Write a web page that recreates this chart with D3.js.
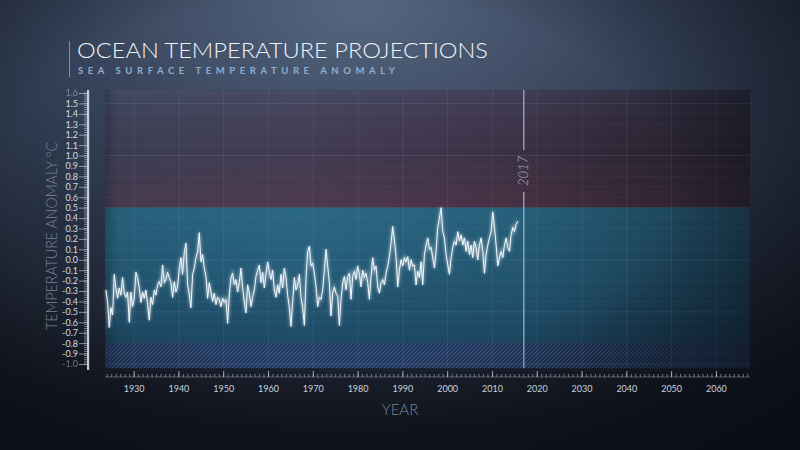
<!DOCTYPE html>
<html>
<head>
<meta charset="utf-8">
<script src="https://cdnjs.cloudflare.com/ajax/libs/d3/7.8.5/d3.min.js"></script>
<style>
  body { margin: 0; background: #1b2130; }
  svg { display: block; font-family: 'Lato', 'Open Sans', sans-serif; }
</style>
</head>
<body>
<div id="chart"></div>
<script>
// sea surface temperature anomaly (roughly 3 samples a year)
var sampleStart = 1923.7
var sampleStep = 0.3723
var anomaly = [
  -0.29, -0.40, -0.65, -0.46, -0.53, -0.14, -0.27, -0.37, -0.27, -0.34,
  -0.17, -0.32, -0.36, -0.31, -0.60, -0.31, -0.45, -0.37, -0.12, -0.17,
  -0.27, -0.41, -0.31, -0.37, -0.29, -0.43, -0.58, -0.36, -0.43, -0.29,
  -0.34, -0.24, -0.21, -0.26, -0.05, -0.22, -0.19, -0.12, -0.17, -0.22,
  -0.36, -0.21, -0.31, -0.26, -0.08, 0.02, -0.14, 0.07, 0.16, -0.24,
  -0.34, -0.46, -0.14, -0.08, 0.02, 0.08, 0.26, -0.02, 0.05,
  -0.08, -0.16, -0.37, -0.22, -0.31, -0.40, -0.32, -0.43, -0.36, -0.38,
  -0.45, -0.37, -0.41, -0.38, -0.61, -0.34, -0.17, -0.13, -0.24, -0.19,
  -0.31, -0.22, -0.08, -0.27, -0.41, -0.51, -0.24, -0.32, -0.45, -0.36,
  -0.29, -0.16, -0.10, -0.05, -0.22, -0.12, -0.27, -0.14, -0.02, -0.12,
  -0.19, -0.10, -0.29, -0.36, -0.24, -0.32, -0.14, -0.27, -0.08, -0.17,
  -0.34, -0.46, -0.64, -0.40, -0.17, -0.29, -0.24, -0.14, -0.36, -0.46,
  -0.63, -0.17, 0.08,
  0.13, -0.06, -0.03, -0.13, -0.26, -0.45, -0.36, -0.38, -0.29, -0.10,
  0.10, -0.06, -0.22, -0.54, -0.32, -0.26, -0.32, -0.35, -0.63, -0.38,
  -0.22, -0.16, -0.29, -0.16, -0.13, -0.38, -0.16, -0.11, -0.19, -0.06,
  -0.14, -0.26, -0.10, -0.17, -0.13, -0.22, -0.38, -0.16, 0.02, -0.10,
  -0.06, -0.26, -0.32, -0.22, -0.19, -0.24, -0.13, -0.06, 0.03, 0.16,
  0.32, 0.19, 0.03, -0.26, -0.10, 0.00, -0.06, 0.02, -0.02, 0.03,
  -0.10, 0.00, -0.06,
  -0.05, -0.24, -0.11, -0.17, -0.02, -0.24, 0.05, 0.14, 0.21, 0.10,
  0.12, 0.02, -0.08, 0.08, 0.31, 0.40, 0.50, 0.27, 0.21, 0.05,
  -0.05, -0.14, 0.02, 0.12, 0.18, 0.14, 0.27, 0.18, 0.24, 0.14,
  0.21, 0.08, 0.18, 0.05, 0.14, 0.02, 0.18, 0.12, 0.00, 0.14,
  0.21, 0.08, -0.13, 0.05, 0.14, 0.21, 0.27, 0.46, 0.31, 0.14,
  -0.06, 0.02, 0.08, 0.02, 0.14, 0.21, 0.12, 0.08, 0.24, 0.31,
  0.27, 0.34, 0.37
]

var xTicks = [1930, 1940, 1950, 1960, 1970, 1980, 1990, 2000, 2010, 2020, 2030, 2040, 2050, 2060]
var yTicks = [-1.0, -0.9, -0.8, -0.7, -0.6, -0.5, -0.4, -0.3, -0.2, -0.1, 0.0,
  0.1, 0.2, 0.3, 0.4, 0.5, 0.6, 0.7, 0.8, 0.9, 1.0, 1.1, 1.2, 1.3, 1.4, 1.5, 1.6]

// bands behind the line
var warmBand = [0.5, 1.63]
var coolBand = [-0.8, 0.5]
var lowBand = [-1.04, -0.8]
var markerYear = 2017

var w = 800
var h = 450

var svg = d3.select("#chart")
  .append("svg")
  .attr("width", w)
  .attr("height", h)

var defs = svg.append("defs")

var bg = defs.append("radialGradient")
  .attr("id", "bg")
  .attr("cx", "45%").attr("cy", "2%").attr("r", "95%")
bg.append("stop").attr("offset", "0%").attr("stop-color", "#55667f")
bg.append("stop").attr("offset", "35%").attr("stop-color", "#39465e")
bg.append("stop").attr("offset", "70%").attr("stop-color", "#222a3a")
bg.append("stop").attr("offset", "100%").attr("stop-color", "#12161f")

var warm = defs.append("linearGradient")
  .attr("id", "warm").attr("x1", 0).attr("x2", 1).attr("y1", 0).attr("y2", 0)
warm.append("stop").attr("offset", "0%").attr("stop-color", "#3c4258")
warm.append("stop").attr("offset", "55%").attr("stop-color", "#3c3248")
warm.append("stop").attr("offset", "100%").attr("stop-color", "#35232e")

var warmV = defs.append("linearGradient")
  .attr("id", "warmV").attr("x1", 0).attr("x2", 0).attr("y1", 0).attr("y2", 1)
warmV.append("stop").attr("offset", "0%").attr("stop-color", "#5a6a90").attr("stop-opacity", 0.25)
warmV.append("stop").attr("offset", "50%").attr("stop-color", "#5a3048").attr("stop-opacity", 0.1)
warmV.append("stop").attr("offset", "100%").attr("stop-color", "#6a3040").attr("stop-opacity", 0.35)

var cool = defs.append("linearGradient")
  .attr("id", "cool").attr("x1", 0).attr("x2", 0).attr("y1", 0).attr("y2", 1)
cool.append("stop").attr("offset", "0%").attr("stop-color", "#2a6884")
cool.append("stop").attr("offset", "45%").attr("stop-color", "#265e7a")
cool.append("stop").attr("offset", "100%").attr("stop-color", "#1e4a66")

var shade = defs.append("linearGradient")
  .attr("id", "shade").attr("x1", 0).attr("x2", 1).attr("y1", 0).attr("y2", 0)
shade.append("stop").attr("offset", "0%").attr("stop-color", "#0c1420").attr("stop-opacity", 0.35)
shade.append("stop").attr("offset", "2%").attr("stop-color", "#0c1420").attr("stop-opacity", 0.1)
shade.append("stop").attr("offset", "30%").attr("stop-color", "#0c1420").attr("stop-opacity", 0)
shade.append("stop").attr("offset", "65%").attr("stop-color", "#0c1420").attr("stop-opacity", 0.1)
shade.append("stop").attr("offset", "100%").attr("stop-color", "#0c1420").attr("stop-opacity", 0.55)

var hatch = defs.append("pattern")
  .attr("id", "hatch")
  .attr("patternUnits", "userSpaceOnUse")
  .attr("width", 4).attr("height", 4)
hatch.append("path")
  .attr("d", "M0,4 L4,0 M-1,1 L1,-1 M3,5 L5,3")
  .attr("stroke", "#ffffff")
  .attr("stroke-opacity", 0.06)
  .attr("stroke-width", 1)

var hatch2 = defs.append("pattern")
  .attr("id", "hatch2")
  .attr("patternUnits", "userSpaceOnUse")
  .attr("width", 4).attr("height", 4)
hatch2.append("path")
  .attr("d", "M0,4 L4,0 M-1,1 L1,-1 M3,5 L5,3")
  .attr("stroke", "#8fb0e0")
  .attr("stroke-opacity", 0.3)
  .attr("stroke-width", 1)

var glow = defs.append("filter").attr("id", "glow")
  .attr("x", "-10%").attr("y", "-10%").attr("width", "120%").attr("height", "120%")
glow.append("feGaussianBlur").attr("stdDeviation", 1.5)

var vig = defs.append("radialGradient")
  .attr("id", "vig")
  .attr("cx", "42%").attr("cy", "40%").attr("r", "75%")
vig.append("stop").attr("offset", "55%").attr("stop-color", "#05080e").attr("stop-opacity", 0)
vig.append("stop").attr("offset", "100%").attr("stop-color", "#05080e").attr("stop-opacity", 0.55)

svg.append("rect")
  .attr("width", w)
  .attr("height", h)
  .attr("fill", "url(#bg)")

// Scales
var xScale = d3.scaleLinear()
  .domain([1923.5, 2067.5])
  .range([105, 750])

var yScale = d3.scaleLinear()
  .domain([-1.0, 1.6])
  .range([364, 93])

var x0 = xScale.range()[0]
var x1 = xScale.range()[1]

// Bands
svg.append("rect")
  .attr("x", x0).attr("width", x1 - x0)
  .attr("y", yScale(warmBand[1]))
  .attr("height", yScale(warmBand[0]) - yScale(warmBand[1]))
  .attr("fill", "url(#warm)")
  .attr("opacity", 0.9)
svg.append("rect")
  .attr("x", x0).attr("width", x1 - x0)
  .attr("y", yScale(warmBand[1]))
  .attr("height", yScale(warmBand[0]) - yScale(warmBand[1]))
  .attr("fill", "url(#warmV)")
svg.append("rect")
  .attr("x", x0).attr("width", x1 - x0)
  .attr("y", yScale(warmBand[1]))
  .attr("height", yScale(warmBand[0]) - yScale(warmBand[1]))
  .attr("fill", "url(#hatch)")

svg.append("rect")
  .attr("x", x0).attr("width", x1 - x0)
  .attr("y", yScale(coolBand[1]))
  .attr("height", yScale(coolBand[0]) - yScale(coolBand[1]))
  .attr("fill", "url(#cool)")

svg.append("rect")
  .attr("x", x0).attr("width", x1 - x0)
  .attr("y", yScale(lowBand[1]))
  .attr("height", yScale(lowBand[0]) - yScale(lowBand[1]))
  .attr("fill", "#233a60")
svg.append("rect")
  .attr("x", x0).attr("width", x1 - x0)
  .attr("y", yScale(lowBand[1]))
  .attr("height", yScale(lowBand[0]) - yScale(lowBand[1]))
  .attr("fill", "url(#hatch2)")

// darken towards the right like the photo
svg.append("rect")
  .attr("x", x0).attr("width", x1 - x0)
  .attr("y", yScale(warmBand[1]))
  .attr("height", yScale(lowBand[0]) - yScale(warmBand[1]))
  .attr("fill", "url(#shade)")

// Grid
svg.append("g")
  .attr("class", "grid")
  .selectAll("line")
  .data(yTicks)
  .enter()
  .append("line")
  .attr("x1", x0).attr("x2", x1)
  .attr("y1", d => yScale(d)).attr("y2", d => yScale(d))
  .attr("stroke", "#c8dcff")
  .attr("stroke-opacity", d => Math.abs(Math.round(d * 10) % 5) === 0 ? 0.1 : 0.05)

svg.append("g")
  .attr("class", "grid")
  .selectAll("line")
  .data(xTicks)
  .enter()
  .append("line")
  .attr("x1", d => xScale(d)).attr("x2", d => xScale(d))
  .attr("y1", yScale(warmBand[1])).attr("y2", yScale(lowBand[0]))
  .attr("stroke", "#c8dcff")
  .attr("stroke-opacity", 0.08)

// 2017 marker
var mx = xScale(markerYear)
svg.append("line")
  .attr("x1", mx).attr("x2", mx)
  .attr("y1", 90).attr("y2", 150)
  .attr("stroke", "#a9c2d6")
  .attr("stroke-opacity", 0.75)
  .attr("stroke-width", 1.5)
svg.append("line")
  .attr("x1", mx).attr("x2", mx)
  .attr("y1", 192).attr("y2", yScale(lowBand[0]))
  .attr("stroke", "#a9c2d6")
  .attr("stroke-opacity", 0.75)
  .attr("stroke-width", 1.5)
svg.append("text")
  .attr("transform", `translate(${mx + 4},171) rotate(-90)`)
  .attr("text-anchor", "middle")
  .style("font-size", "13px")
  .style("font-style", "italic")
  .style("font-weight", 300)
  .attr("fill", "#a3b2c4")
  .text(markerYear)

// Line
var line = d3.line()
  .x((d, i) => xScale(sampleStart + i * sampleStep))
  .y(d => yScale(d))

svg.append("path")
  .datum(anomaly)
  .attr("d", line)
  .attr("fill", "none")
  .attr("stroke", "#ffffff")
  .attr("stroke-opacity", 0.45)
  .attr("stroke-width", 2.5)
  .attr("filter", "url(#glow)")

svg.append("path")
  .datum(anomaly)
  .attr("d", line)
  .attr("fill", "none")
  .attr("stroke", "#f2f8ff")
  .attr("stroke-width", 1)
  .attr("stroke-linejoin", "round")

// vignette
svg.append("rect")
  .attr("width", w)
  .attr("height", h)
  .attr("fill", "url(#vig)")

// Y axis
var yMinor = d3.range(-50, 81).map(i => i / 50)
var yAxisG = svg.append("g")
  .attr("class", "y-axis")
  .attr("transform", "translate(87,0)")

yAxisG.selectAll(".minor")
  .data(yMinor)
  .enter()
  .append("line")
  .attr("class", "minor")
  .attr("x1", -3).attr("x2", 0)
  .attr("y1", d => yScale(d)).attr("y2", d => yScale(d))
  .attr("stroke", "#c9d3e0")
  .attr("stroke-opacity", 0.55)

yAxisG.call(d3.axisLeft(yScale)
    .tickValues(yTicks)
    .tickSize(8)
    .tickFormat(d => d.toFixed(1)))
  .call(g => g.select(".domain").remove())
  .call(g => g.selectAll(".tick line").attr("stroke", "#c9d3e0").attr("stroke-opacity", 0.6))
  .call(g => g.selectAll(".tick text")
    .attr("x", -9)
    .attr("fill", "#d3dbe6")
    .style("font-size", "9px")
    .style("font-family", "Lato, 'Open Sans', sans-serif")
    .attr("opacity", d => (d === 1.6 || d === -1.0) ? 0.45 : 1))

yAxisG.append("rect")
  .attr("x", 0).attr("y", 90)
  .attr("width", 2.2).attr("height", 280)
  .attr("fill", "#dfe8f2")
  .attr("opacity", 0.85)

svg.append("text")
  .attr("transform", "translate(57,236) rotate(-90)")
  .attr("text-anchor", "middle")
  .attr("textLength", 188)
  .attr("lengthAdjust", "spacingAndGlyphs")
  .style("font-size", "15px")
  .style("font-weight", 300)
  .attr("fill", "#75839a")
  .text("TEMPERATURE ANOMALY °C")

// X axis
var xMinor = d3.range(1924, 2068)
var xAxisG = svg.append("g")
  .attr("class", "x-axis")
  .attr("transform", "translate(0,377)")

xAxisG.append("line")
  .attr("x1", x0).attr("x2", x1)
  .attr("stroke", "#c9d3e0")
  .attr("stroke-opacity", 0.35)

xAxisG.selectAll(".minor")
  .data(xMinor)
  .enter()
  .append("line")
  .attr("class", "minor")
  .attr("x1", d => xScale(d)).attr("x2", d => xScale(d))
  .attr("y1", -3).attr("y2", 0)
  .attr("stroke", "#c9d3e0")
  .attr("stroke-opacity", 0.5)

xAxisG.selectAll(".major")
  .data(xTicks)
  .enter()
  .append("line")
  .attr("class", "major")
  .attr("x1", d => xScale(d)).attr("x2", d => xScale(d))
  .attr("y1", -6).attr("y2", 0)
  .attr("stroke", "#d6dee8")
  .attr("stroke-opacity", 0.7)

xAxisG.selectAll(".label")
  .data(xTicks)
  .enter()
  .append("text")
  .attr("class", "label")
  .attr("x", d => xScale(d))
  .attr("y", 15)
  .attr("text-anchor", "middle")
  .attr("fill", "#c9d2de")
  .style("font-size", "9px")
  .text(d => d)

svg.append("text")
  .attr("x", 400)
  .attr("y", 415)
  .attr("text-anchor", "middle")
  .style("font-size", "15px")
  .style("font-weight", 300)
  .attr("fill", "#75839a")
  .text("YEAR")

// Title block
svg.append("line")
  .attr("x1", 69.5).attr("x2", 69.5)
  .attr("y1", 41).attr("y2", 77)
  .attr("stroke", "#b9c4d4")
  .attr("stroke-opacity", 0.6)

svg.append("text")
  .attr("x", 77)
  .attr("y", 58)
  .attr("textLength", 411)
  .attr("lengthAdjust", "spacingAndGlyphs")
  .style("font-size", "22px")
  .style("font-weight", 300)
  .attr("fill", "#eef3f8")
  .text("OCEAN TEMPERATURE PROJECTIONS")

svg.append("text")
  .attr("x", 78)
  .attr("y", 74)
  .attr("textLength", 317)
  .attr("lengthAdjust", "spacing")
  .style("font-size", "9.5px")
  .style("font-weight", 700)
  .attr("fill", "#8eaed0")
  .text("SEA SURFACE TEMPERATURE ANOMALY")
</script>
</body>
</html>
